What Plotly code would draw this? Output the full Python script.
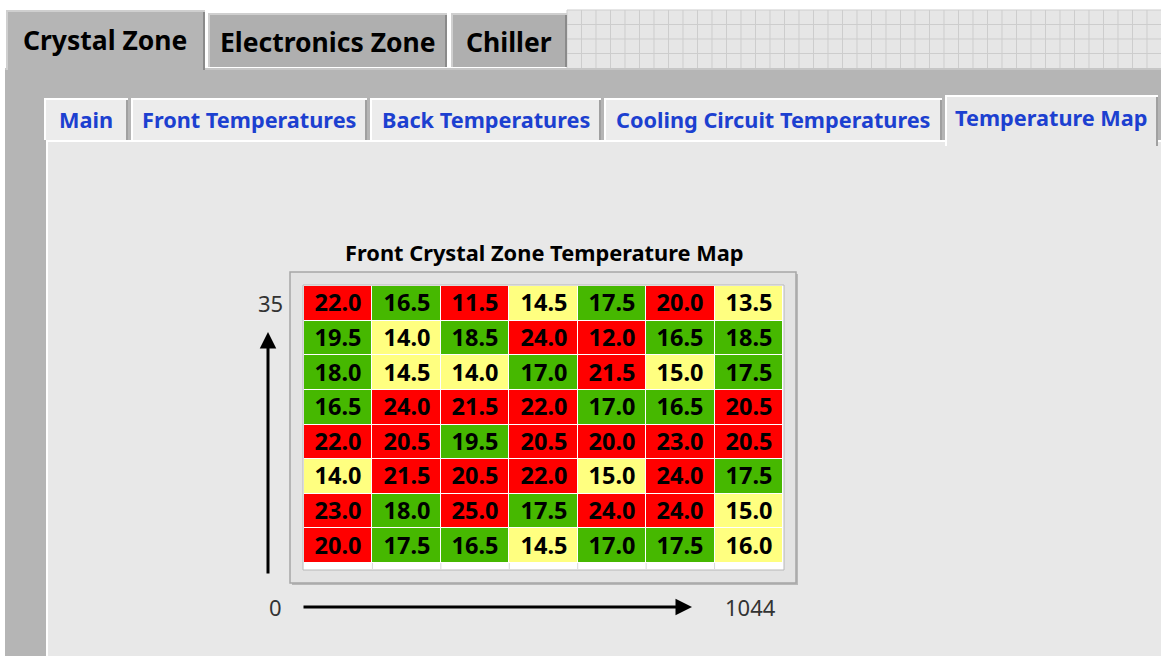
import plotly.graph_objects as go

W, H = 1161, 656

# ---------------- data ----------------
row_labels = ["R1", "R2", "R3", "R4", "R5", "R6", "R7", "R8"]
col_labels = ["C1", "C2", "C3", "C4", "C5", "C6", "C7"]
temps = [
    [22.0, 16.5, 11.5, 14.5, 17.5, 20.0, 13.5],
    [19.5, 14.0, 18.5, 24.0, 12.0, 16.5, 18.5],
    [18.0, 14.5, 14.0, 17.0, 21.5, 15.0, 17.5],
    [16.5, 24.0, 21.5, 22.0, 17.0, 16.5, 20.5],
    [22.0, 20.5, 19.5, 20.5, 20.0, 23.0, 20.5],
    [14.0, 21.5, 20.5, 22.0, 15.0, 24.0, 17.5],
    [23.0, 18.0, 25.0, 17.5, 24.0, 24.0, 15.0],
    [20.0, 17.5, 16.5, 14.5, 17.0, 17.5, 16.0],
]
y_axis_labels = ["0", "35"]
x_axis_labels = ["0", "1044"]
title_text = "Front Crystal Zone Temperature Map"
top_tabs = ["Crystal Zone", "Electronics Zone", "Chiller"]
inner_tabs = ["Main", "Front Temperatures", "Back Temperatures",
              "Cooling Circuit Temperatures", "Temperature Map"]


def category(v):
    # 0 = red (too cold / too warm), 1 = yellow (cool), 2 = green (nominal)
    if v < 13.0 or v >= 20.0:
        return 0
    if v <= 16.0:
        return 1
    return 2


zcat = [[category(v) for v in row] for row in temps]
ztext = [[f"{v:.1f}" for v in row] for row in temps]

RED, YEL, GRN = "#ff0000", "#ffff80", "#46b800"
FONT = "Noto Sans"

# ---------------- helpers ----------------
def px(x):
    return x / W


def py(y):
    return 1 - y / H


shapes = []
annotations = []


def rect(x0, y0, x1, y1, fill, line=None, lw=0, layer="below"):
    shapes.append(dict(type="rect", xref="paper", yref="paper",
                       x0=px(x0), x1=px(x1), y0=py(y1), y1=py(y0),
                       fillcolor=fill,
                       line=dict(color=line or fill, width=lw),
                       layer=layer))


def hline(x0, x1, y, color, lw=1, layer="below"):
    shapes.append(dict(type="line", xref="paper", yref="paper",
                       x0=px(x0), x1=px(x1), y0=py(y), y1=py(y),
                       line=dict(color=color, width=lw), layer=layer))


def vline(x, y0, y1, color, lw=1, layer="below"):
    shapes.append(dict(type="line", xref="paper", yref="paper",
                       x0=px(x), x1=px(x), y0=py(y0), y1=py(y1),
                       line=dict(color=color, width=lw), layer=layer))


def text(x, y, s, size, color="#000", bold=False, xanchor="center"):
    annotations.append(dict(x=px(x), y=py(y), xref="paper", yref="paper",
                            text=s, showarrow=False, xanchor=xanchor,
                            yanchor="middle",
                            font=dict(family=FONT, size=size,
                                      color=color,
                                      weight="bold" if bold else "normal")))


# ---------------- window chrome ----------------
rect(0, 0, W, H, "#ffffff")
# grid area right of top tabs
rect(567, 10, W, 68, "#e6e6e6")
gx = 567
while gx < W:
    vline(gx, 10, 68, "#cdcdcd")
    gx += 14.5
for gy in [10, 24.5, 39, 53.5]:
    hline(567, W, gy, "#cdcdcd")

# outer tab panel
rect(5, 68, W, H, "#b5b5b5")
hline(5, W, 69, "#c6c6c6", 2)

# top tabs
top_tab_boxes = [(6, 10, 205, 70, True), (208, 13, 447, 67, False),
                 (451, 13, 567, 67, False)]
for (x0, y0, x1, y1, sel), lab in zip(top_tab_boxes, top_tabs):
    rect(x0, y0, x1, y1, "#b5b5b5" if sel else "#afafaf")
    hline(x0, x1, y0 + 1, "#cfcfcf", 2)
    vline(x0 + 1, y0, y1, "#cfcfcf", 2)
    vline(x1 - 1, y0 + 2, y1, "#8a8a8a", 2)
    text((x0 + x1) / 2, 40 if sel else 42, lab, 26.5, "#000", True)

# inner content panel
rect(46, 140, W, H, "#e8e8e8")
vline(47, 140, H, "#ffffff", 2)
hline(46, W, 141, "#ffffff", 2)

# inner tabs
inner_boxes = [(44, 98, 128, 140), (131, 98, 367, 140), (370, 98, 601, 140),
               (604, 98, 942, 140), (945, 95, 1158, 146)]
for i, ((x0, y0, x1, y1), lab) in enumerate(zip(inner_boxes, inner_tabs)):
    sel = i == len(inner_tabs) - 1
    rect(x0, y0, x1, y1, "#e8e8e8" if sel else "#ececec")
    hline(x0, x1, y0 + 1, "#ffffff", 2)
    vline(x0 + 1, y0, y1, "#ffffff", 2)
    vline(x1 - 1, y0 + 2, y1, "#a0a0a0", 2)
    text((x0 + x1) / 2, 117 if sel else 120, lab, 21.7, "#1c40d0", True)

# heatmap frame (raised box)
rect(292, 274, 798, 585, "#b8b8b8")   # shadow
rect(290, 272, 796, 583, "#e3e3e3", "#a6a6a6", 1.5)
rect(303, 285, 784, 570, "#ffffff", "#b8b8b8", 1)
# vertical separators in the white strip below the last row
for k in range(1, 7):
    vline(304 + k * (479 / 7), 563, 569, "#d8d8d8")

# ---------------- heatmap ----------------
CX0, CX1, CY0, CY1 = 304, 783, 286, 563
fig = go.Figure(go.Heatmap(
    z=zcat, x=col_labels, y=row_labels, text=ztext,
    texttemplate="%{text}",
    textfont=dict(family=FONT, size=23.5, color="#000000",
                  weight="bold"),
    colorscale=[[0, RED], [0.333, RED], [0.333, YEL], [0.667, YEL],
                [0.667, GRN], [1, GRN]],
    zmin=0, zmax=2, showscale=False, xgap=1, ygap=1, hoverinfo="text",
))

# title
text((CX0 + CX1) / 2 + 1, 252, title_text, 21.8, "#000", True)

# axis labels
text(270, 303, y_axis_labels[1], 22, "#333333")
text(275, 607, y_axis_labels[0], 22, "#333333")
text(750, 607, x_axis_labels[1], 22, "#333333")

# arrows
annotations.append(dict(x=px(268), y=py(332), xref="paper", yref="paper",
                        ax=0, ay=575 - 332, axref="pixel", ayref="pixel",
                        text="", showarrow=True, arrowhead=2, arrowsize=1.1,
                        arrowwidth=3, arrowcolor="#000"))
annotations.append(dict(x=px(692), y=py(607), xref="paper", yref="paper",
                        ax=302 - 692, ay=0, axref="pixel", ayref="pixel",
                        text="", showarrow=True, arrowhead=2, arrowsize=1.1,
                        arrowwidth=3, arrowcolor="#000"))

fig.update_layout(
    width=W, height=H, autosize=False,
    margin=dict(l=0, r=0, t=0, b=0),
    paper_bgcolor="#ffffff", plot_bgcolor="#e6d9d9",
    shapes=shapes, annotations=annotations,
    xaxis=dict(domain=[px(CX0), px(CX1)], showticklabels=False,
               showgrid=False, zeroline=False, ticks="", fixedrange=True),
    yaxis=dict(domain=[py(CY1), py(CY0)], showticklabels=False,
               showgrid=False, zeroline=False, ticks="",
               autorange="reversed", fixedrange=True),
    showlegend=False,
)

fig.write_html("out.html",
               config={"displayModeBar": False, "displaylogo": False},
               post_script="document.body.style.margin='0';"
                           "document.body.style.overflow='hidden';")
